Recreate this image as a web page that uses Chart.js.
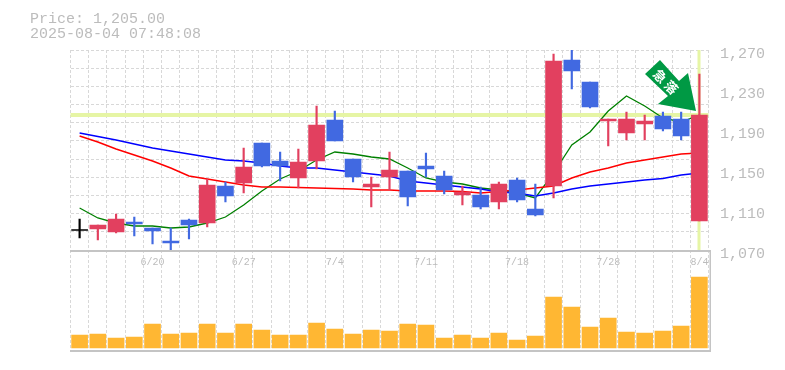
<!DOCTYPE html>
<html><head><meta charset="utf-8">
<script src="https://cdn.jsdelivr.net/npm/chart.js@4"></script>
<style>
html,body{margin:0;padding:0;background:#fff;width:785px;height:370px;overflow:hidden}
</style></head><body>
<div style="position:absolute;left:0;top:0;width:785px;height:270px"><canvas id="c1"></canvas></div>
<div style="position:absolute;left:0;top:250px;width:785px;height:102px"><canvas id="c2"></canvas></div>
<script>
const categories=['6/16','6/17','6/18','6/19','6/20','6/23','6/24','6/25','6/26','6/27','6/30','7/1','7/2','7/3','7/4','7/7','7/8','7/9','7/10','7/11','7/14','7/15','7/16','7/17','7/18','7/22','7/23','7/24','7/25','7/28','7/29','7/30','7/31','8/1','8/4'];
const shownLabels=['6/20','6/27','7/4','7/11','7/18','7/28','8/4'];
const openV=[1090,1091,1088,1098,1092,1079,1100,1097,1134,1137,1177,1159,1142,1159,1200,1161,1133,1143,1149,1154,1144,1125,1125,1118,1140,1111,1134,1260,1238,1199,1187,1196,1204,1201,1099];
const closeV=[1090,1095,1101,1096,1089,1077,1095,1135,1124,1153,1154,1154,1158,1195,1179,1143,1136,1150,1123,1151,1130,1128,1113,1136,1120,1105,1259,1249,1213,1201,1201,1199,1191,1184,1205];
const highV=[1101,1095,1106,1103,1092,1092,1101,1141,1138,1172,1177,1168,1171,1214,1209,1161,1143,1168,1149,1167,1149,1134,1133,1138,1142,1136,1266,1270,1238,1201,1208,1205,1208,1208,1246];
const lowV=[1082,1080,1087,1084,1076,1069,1081,1093,1118,1127,1153,1139,1132,1151,1179,1138,1113,1130,1114,1143,1126,1115,1111,1111,1118,1104,1122,1231,1212,1174,1180,1180,1189,1180,1099];
const maShort=[1112,1102,1097,1094,1094,1092,1093,1097,1103,1115,1129,1141,1149,1160,1168,1166,1163,1161,1152,1142,1138,1136,1132,1130,1127,1122,1147,1175,1188,1209,1224,1214,1202,1198,1205];
const maMid=[1184,1178,1171,1165,1159,1152,1144,1141,1138,1135,1133,1133,1132.5,1132,1131.5,1131,1130,1130,1129,1129,1129,1128.5,1127,1128.5,1130,1132,1134,1142,1148,1152,1157,1160,1163,1166,1167];
const maLong=[1187,1183.5,1180,1176,1172,1169,1166,1163,1160,1159,1157,1154,1152,1152,1150,1148,1146,1144,1139,1137,1135,1133,1131,1128,1127,1124,1127,1131,1134,1136,1138,1140,1141.5,1145,1147];
const volumeV=[13,14,10,11,24,14,15,24,15,24,18,13,13,25,19,14,18,17,24,23,10,13,10,15,8,12,51,41,21,30,16,15,17,22,71];
const priceTicks=[1070,1110,1150,1190,1230,1270];
const lastPrice=1205, priceText='Price: 1,205.00', timeText='2025-08-04 07:48:08';
const RED='#e2405f',BLUE='#4169e1',GRID='#d8d8d8',AXIS='#c4c4c4',PALE='#e6f5a5';
const colorOf=i=>closeV[i]>openV[i]?RED:closeV[i]<openV[i]?BLUE:'#000';
const colors=categories.map((_,i)=>colorOf(i));
const bodies=categories.map((_,i)=>openV[i]===closeV[i]?[openV[i]-0.5,openV[i]+0.5]:[openV[i],closeV[i]]);
const wicks=categories.map((_,i)=>[lowV[i],highV[i]]);
const FONT='"Liberation Mono","DejaVu Sans Mono",monospace';
const fixW=(w)=>s=>{s.width=w};
const fixH=(h)=>s=>{s.height=h};
const line=(data,color,w,order)=>({type:'line',data,borderColor:color,borderWidth:w,pointRadius:0,tension:0,order,fill:false});

const arrowPlugin={id:'arrow',afterDatasetsDraw(c){
  const g=c.ctx;g.save();
  g.fillStyle='#009944';
  g.beginPath();
  g.moveTo(660,60);g.lineTo(645,74);g.lineTo(668,96);g.lineTo(658,104);g.lineTo(696,111);g.lineTo(688,73);g.lineTo(679,81);
  g.closePath();g.fill();
  g.fillStyle='#fff';g.font='bold 13px "Noto Sans CJK JP"';g.textAlign='center';g.textBaseline='middle';
  g.translate(660,76);g.rotate(Math.PI/4);g.fillText('急',0,0);g.translate(16,0);g.fillText('落',0,0);
  g.restore();
}};
const headerPlugin={id:'hdr',afterDraw(c){
  const g=c.ctx;g.save();g.fillStyle='#bcbcbc';g.font='15px '+FONT;g.textBaseline='alphabetic';
  g.fillText(priceText,30,23);g.fillText(timeText,30,38);g.restore();
}};
const refLines={id:'ref',beforeDatasetsDraw(c){
  const g=c.ctx,x=c.scales.x,y=c.scales.y,a=c.chartArea;g.save();g.fillStyle=PALE;
  g.fillRect(a.left,Math.round(y.getPixelForValue(lastPrice))-2,a.right-a.left,4);
  g.fillRect(Math.round(x.getPixelForValue(categories.length-1))-1.5,a.top,3,a.bottom-a.top);
  g.restore();
}};
new Chart(document.getElementById('c1'),{
  data:{labels:categories,datasets:[
    {type:'bar',data:bodies,backgroundColor:colors,barThickness:16,grouped:false,order:1},
    {type:'bar',data:wicks,backgroundColor:colors,barThickness:1.5,grouped:false,order:2},
    line(maLong,'#0000ff',1.5,3),line(maMid,'#ff0000',1.5,4),line(maShort,'#008000',1.3,5)
  ]},
  options:{animation:false,responsive:true,maintainAspectRatio:false,
    layout:{padding:{left:70.5,top:50,right:0,bottom:0}},
    plugins:{legend:{display:false},tooltip:{enabled:false}},
    scales:{
      x:{type:'category',offset:true,afterFit:fixH(20),
        grid:{offset:true,color:GRID,lineWidth:1,drawTicks:false},border:{display:false,dash:[3,2]},
        ticks:{autoSkip:false,maxRotation:0,minRotation:0,padding:6,color:'#bcbcbc',font:{family:FONT,size:10},
          callback(v){const l=this.getLabelForValue(v);return shownLabels.includes(l)?l:''}}},
      y:{position:'right',min:priceTicks[0],max:priceTicks[5],afterFit:fixW(76.5),
        afterBuildTicks(s){s.ticks=priceTicks.map(v=>({value:v}))},
        grid:{display:false},border:{display:false},
        ticks:{padding:3.5,labelOffset:4,color:'#bcbcbc',font:{family:FONT,size:15},
          callback:v=>v.toLocaleString('en-US')}},
      yGrid:{position:'left',min:0,max:11,display:true,afterFit:fixW(0),
        grid:{color:GRID,drawTicks:false},border:{display:false,dash:[3,2]},
        ticks:{display:false,stepSize:1}}
    }},
  plugins:[refLines,arrowPlugin,headerPlugin]
});
new Chart(document.getElementById('c2'),{
  data:{labels:categories,datasets:[
    {type:'bar',data:volumeV,backgroundColor:'#ffb733',barThickness:16}
  ]},
  options:{animation:false,responsive:true,maintainAspectRatio:false,
    layout:{padding:{left:70.5,top:0,right:0,bottom:0}},
    plugins:{legend:{display:false},tooltip:{enabled:false}},
    scales:{
      x:{type:'category',offset:true,afterFit:fixH(2),
        grid:{offset:true,color:GRID,drawTicks:false},border:{display:false,dash:[3,2]},
        ticks:{display:false}},
      y:{position:'right',min:-2,max:98,afterFit:fixW(76.5),
        grid:{display:false},border:{display:false},ticks:{display:false}}
    }},
  plugins:[{id:'frame',afterDraw(c){
    const g=c.ctx,a=c.chartArea;g.save();g.fillStyle=AXIS;
    g.fillRect(70,0,641,2);
    g.fillRect(70,a.bottom,641,2);
    g.fillRect(709.5,0,1.5,a.bottom);
    g.restore();
  }}]
});
</script></body></html>
